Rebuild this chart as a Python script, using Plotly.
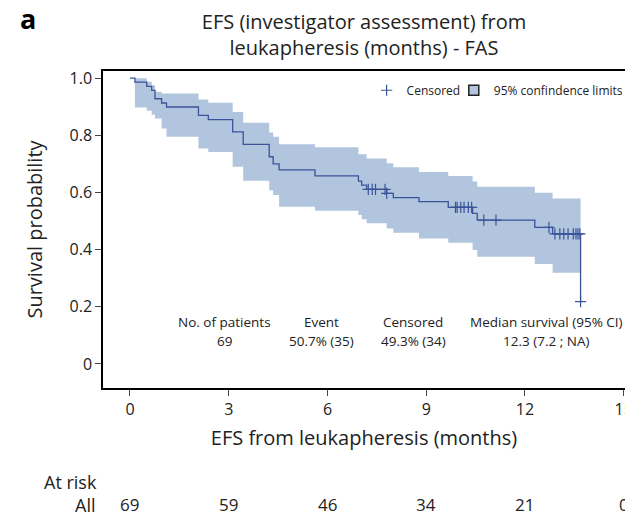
import numpy as np
import plotly.graph_objects as go

# Kaplan-Meier estimate (step values after each time point), months
tempos = [0, 0.15, 0.51, 0.66, 0.76, 0.96, 1.11, 2.08, 2.38, 3.12, 3.44, 4.23, 4.35, 4.53,
          5.62, 6.94, 7.04, 7.19, 7.80, 8.00, 8.78, 9.67, 10.41, 10.55, 12.30, 12.84, 13.69]
sobrevida = [1.0, 0.986, 0.971, 0.957, 0.928, 0.913, 0.899, 0.870, 0.855, 0.812, 0.768, 0.725,
             0.700, 0.679, 0.658, 0.640, 0.626, 0.611, 0.597, 0.582, 0.568, 0.548, 0.527, 0.503,
             0.478, 0.455, 0.218]
# IC 95% (até o último evento)
ic_sup = [1.0, 1.0, 0.987, 0.975, 0.952, 0.946, 0.946, 0.925, 0.914, 0.882, 0.844, 0.810,
          0.795, 0.769, 0.758, 0.734, 0.734, 0.719, 0.702, 0.688, 0.672, 0.658, 0.638, 0.620,
          0.599, 0.579]
ic_inf = [1.0, 0.897, 0.886, 0.872, 0.859, 0.824, 0.795, 0.754, 0.742, 0.690, 0.641, 0.608,
          0.591, 0.550, 0.536, 0.521, 0.506, 0.492, 0.474, 0.459, 0.439, 0.424, 0.399, 0.375,
          0.350, 0.319]
censurados = [7.24, 7.36, 7.46, 7.75, 7.80, 9.89, 9.94, 10.05, 10.15, 10.28, 10.38, 10.75,
              11.12, 12.73, 12.91, 13.06, 13.18, 13.31, 13.47, 13.55, 13.61, 13.67, 13.69]

risco_tempos = [0, 3, 6, 9, 12, 15]
risco_n = [69, 59, 46, 34, 21, 0]

resumo_titulos = ['No. of patients', 'Event', 'Censored', 'Median survival (95% CI)']
resumo_valores = ['69', '50.7% (35)', '49.3% (34)', '12.3 (7.2 ; NA)']
resumo_x = [2.86, 5.83, 8.6, 12.65]

azul = '#3a5399'
banda = '#b1c6de'
fonte = 'Open Sans'
texto = '#222'

# y dos censurados vem da curva em degraus
idx = np.searchsorted(tempos, censurados, side='right') - 1
cens_y = [sobrevida[i] for i in idx]

banda_x = tempos[:-1] + [tempos[-1]]

fig = go.Figure()
fig.add_trace(go.Scatter(x=banda_x, y=ic_inf + [ic_inf[-1]], mode='lines', line_shape='hv',
                         line=dict(width=0, color=banda), showlegend=False, hoverinfo='skip'))
fig.add_trace(go.Scatter(x=banda_x, y=ic_sup + [ic_sup[-1]], mode='lines', line_shape='hv',
                         line=dict(width=0, color=banda), fill='tonexty', fillcolor=banda,
                         showlegend=False, hoverinfo='skip'))
fig.add_trace(go.Scatter(x=tempos, y=sobrevida, mode='lines', line_shape='hv',
                         line=dict(width=1.3, color=azul), showlegend=False))
fig.add_trace(go.Scatter(x=censurados, y=cens_y, mode='markers', name='Censored', legend='legend',
                         marker=dict(symbol='cross-thin', size=8, line=dict(width=1.2, color=azul))))
fig.add_trace(go.Scatter(x=[None], y=[None], mode='markers', name='95% confindence limits',
                         legend='legend2',
                         marker=dict(symbol='square', size=10, color=banda,
                                     line=dict(width=1.5, color=texto))))

for x, t, v in zip(resumo_x, resumo_titulos, resumo_valores):
    fig.add_annotation(x=x, y=0.147, xref='x', yref='y', text=t, showarrow=False,
                       font=dict(size=13.5, color=texto))
    fig.add_annotation(x=x, y=0.08, xref='x', yref='y', text=v, showarrow=False,
                       font=dict(size=13.5, color=texto))

# tabela "At risk"
fig.add_annotation(x=-0.117, y=-0.296, xref='paper', yref='paper', text='At risk', showarrow=False,
                   xanchor='left', yanchor='middle', font=dict(size=18, color=texto))
fig.add_annotation(x=-0.011, y=-0.369, xref='paper', yref='paper', text='All', showarrow=False,
                   xanchor='right', yanchor='middle', font=dict(size=18, color=texto))
for t, n in zip(risco_tempos, risco_n):
    fig.add_annotation(x=t, y=-0.369, xref='x', yref='paper', text=str(n), showarrow=False,
                       yanchor='middle', font=dict(size=17, color=texto))

fig.add_annotation(x=-0.163, y=1.167, xref='paper', yref='paper', text='<b>a</b>',
                   showarrow=False, xanchor='left', yanchor='middle',
                   font=dict(size=27, color='black'))

legenda = dict(orientation='h', y=0.985, yanchor='top', xanchor='left',
               font=dict(size=12, color=texto), bgcolor='rgba(0,0,0,0)', itemwidth=30)

fig.update_layout(
    width=625, height=516,
    margin=dict(l=103, r=0, t=71, b=128, autoexpand=False),
    plot_bgcolor='white', paper_bgcolor='white',
    font=dict(family=fonte, color=texto),
    title=dict(text='EFS (investigator assessment) from<br>leukapheresis (months) - FAS',
               x=0.5, xref='paper', y=0.944, yanchor='middle', font=dict(size=20, color=texto)),
    legend=dict(legenda, x=0.505),
    legend2=dict(legenda, x=0.672),
    xaxis=dict(range=[-0.82, 15.04], tickvals=risco_tempos, ticks='outside', ticklen=6,
               showline=True, linecolor='black', linewidth=1.5, mirror=True, showgrid=False,
               zeroline=False, tickfont=dict(size=16), automargin=False,
               ticklabeloverflow='allow',
               title=dict(text='EFS from leukapheresis (months)', font=dict(size=20), standoff=12)),
    yaxis=dict(range=[-0.084, 1.025], tickvals=[0, 0.2, 0.4, 0.6, 0.8, 1.0],
               ticktext=['0', '0.2', '0.4', '0.6', '0.8', '1.0'], ticks='outside', ticklen=6,
               showline=True, linecolor='black', linewidth=1.5, showgrid=False, zeroline=False,
               tickfont=dict(size=16), automargin=False,
               title=dict(text='Survival probability', font=dict(size=20), standoff=22)),
)

# sem a margem padrão do <body> e sem a barra de ferramentas
fig.write_html("out.html", config={'displayModeBar': False},
               post_script="document.body.style.margin='0';")
